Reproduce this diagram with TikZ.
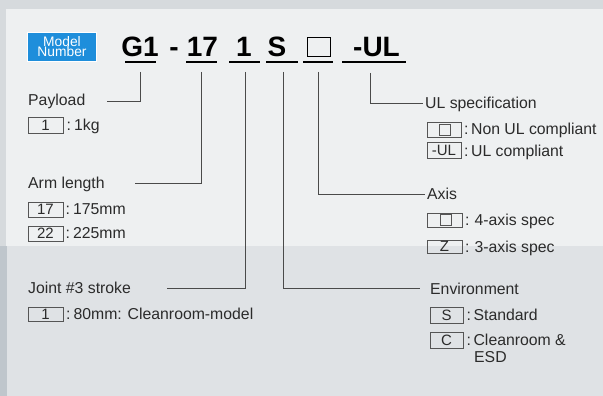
\documentclass[tikz,border=0pt]{standalone}
\usepackage{fontspec}
\setmainfont{Liberation Sans}
\definecolor{txt}{HTML}{2B2B2B}
\definecolor{linegray}{HTML}{4A4A4A}
\definecolor{boxgray}{HTML}{555555}
\definecolor{mblue}{HTML}{1E8EDB}
\definecolor{panel}{HTML}{EEF0F1}
\definecolor{lowpanel}{HTML}{DFE2E5}
\definecolor{frame}{HTML}{D6DADD}
\definecolor{strip}{HTML}{BFC6CC}
\begin{document}
\begin{tikzpicture}[x=1pt,y=-1pt,
  conn/.style={draw=linegray, line width=0.9pt},
  uline/.style={draw=black, line width=2pt},
  lbl/.style={anchor=base west, inner sep=0pt, font=\fontsize{15.8}{18}\selectfont, text=txt},
  keybox/.style={draw=boxgray, line width=0.8pt, minimum width=34pt, minimum height=15pt, inner sep=0pt, font=\fontsize{15}{18}\selectfont, text=txt},
  innersq/.style={draw=boxgray, line width=0.8pt, minimum size=11pt, inner sep=0pt},
  big/.style={anchor=base, inner sep=0pt, font=\fontsize{28}{30}\selectfont\bfseries, text=black},
  tagtext/.style={anchor=base, inner sep=0pt, text height=9.2pt, text depth=0pt, font=\fontsize{13.8}{14}\selectfont, text=white}]
% background
\useasboundingbox (0,0) rectangle (603,396);
\fill[frame] (0,0) rectangle (603,396);
\fill[strip] (0,246) rectangle (7,396);
\fill[panel] (6,9) rectangle (603,246);
\fill[lowpanel] (7,246) rectangle (603,396);

% model number tag
\node[fill=mblue, draw=white, line width=0.8pt, minimum width=69pt, minimum height=29pt, inner sep=0pt] (tag) at (61.5,46.5) {};
\node[tagtext] (tag1) at (62,46.8) {Model};
\node[tagtext] (tag2) at (62,56.3) {Number};

% model code
\node[big] (g1) at (140,57) {G1};
\node[big] (dash) at (174,57) {-};
\node[big] (arm) at (202.5,57) {17};
\node[big] (joint) at (244,57) {1};
\node[big] (env) at (277,57) {S};
\node[draw=black, line width=1.5pt, minimum width=23pt, minimum height=19pt, inner sep=0pt] (axis) at (319,47) {};
\node[big] (ul) at (376.5,57) {-UL};

\draw[uline] (125,62) -- (156,62);
\draw[uline] (186,62) -- (217,62);
\draw[uline] (229,62) -- (260,62);
\draw[uline] (266,62) -- (298,62);
\draw[uline] (303,62) -- (333,62);
\draw[uline] (342,62) -- (406,62);

% labels left
\node[lbl] (payload) at (28,106) {Payload};
\node[keybox, minimum width=35pt, minimum height=16pt] (p1) at (45.5,125) {1};
\node[lbl] (p1d) at (66.5,131) {:\hspace{3pt}1kg};

\node[lbl] (armlen) at (28,188) {Arm length};
\node[keybox, minimum width=35pt] (a17) at (45.5,209.5) {17};
\node[lbl] (a17d) at (65.5,214.5) {:\hspace{3pt}175mm};
\node[keybox, minimum width=35pt] (a22) at (45.5,233.5) {22};
\node[lbl] (a22d) at (65.5,238.5) {:\hspace{3pt}225mm};

\node[lbl] (jstroke) at (28,293.5) {Joint \#3 stroke};
\node[keybox, minimum width=35pt, minimum height=14pt] (j1) at (45.5,314) {1};
\node[lbl] (j1d) at (66,319) {:\hspace{3pt}80mm: Cleanroom-model};

% labels right
\node[lbl] (ulspec) at (425,108.5) {UL specification};
\node[keybox] (ul0) at (444,129.5) {};
\node[innersq] (ul0i) at (445,129.5) {};
\node[lbl] (ul0d) at (464,135) {:\hspace{2.5pt}Non UL compliant};
\node[keybox, minimum height=16pt] (ulUL) at (444,150.5) {-UL};
\node[lbl] (ulULd) at (464,156) {:\hspace{2.5pt}UL compliant};

\node[lbl] (axislbl) at (427,199.5) {Axis};
\node[keybox, minimum width=35pt, minimum height=14pt] (ax0) at (444.5,220) {};
\node[innersq] (ax0i) at (445.5,220) {};
\node[lbl] (ax0d) at (465,225.5) {:\hspace{5pt}4-axis spec};
\node[keybox, minimum width=35pt, minimum height=13pt] (axZ) at (444.5,246.5) {Z};
\node[lbl] (axZd) at (465,252) {:\hspace{5pt}3-axis spec};

\node[lbl] (envlbl) at (430,294) {Environment};
\node[keybox, minimum width=33pt, minimum height=16pt] (eS) at (446.5,315) {S};
\node[lbl] (eSd) at (466.5,320.5) {:\hspace{2.5pt}Standard};
\node[keybox, minimum width=33pt, minimum height=16pt] (eC) at (446.5,340) {C};
\node[lbl] (eCd) at (466.5,345.5) {:\hspace{2.5pt}Cleanroom \&};
\node[lbl] (eCd2) at (474,362) {ESD};

% connector end points
\coordinate (sG) at (140,72);
\coordinate (sA) at (201,72);
\coordinate (sJ) at (245,72);
\coordinate (sE) at (283,72);
\coordinate (sX) at (318,72);
\coordinate (sU) at (370,73);
\coordinate (ePay) at (107,101);
\coordinate (eArm) at (135,183);
\coordinate (eJnt) at (167,288);
\coordinate (eEnv) at (420,288);
\coordinate (eAx) at (425,194);
\coordinate (eUL) at (423,103);

\draw[conn] (sG) |- (ePay);
\draw[conn] (sA) |- (eArm);
\draw[conn] (sJ) |- (eJnt);
\draw[conn] (sE) |- (eEnv);
\draw[conn] (sX) |- (eAx);
\draw[conn] (sU) |- (eUL);
\end{tikzpicture}
\end{document}
